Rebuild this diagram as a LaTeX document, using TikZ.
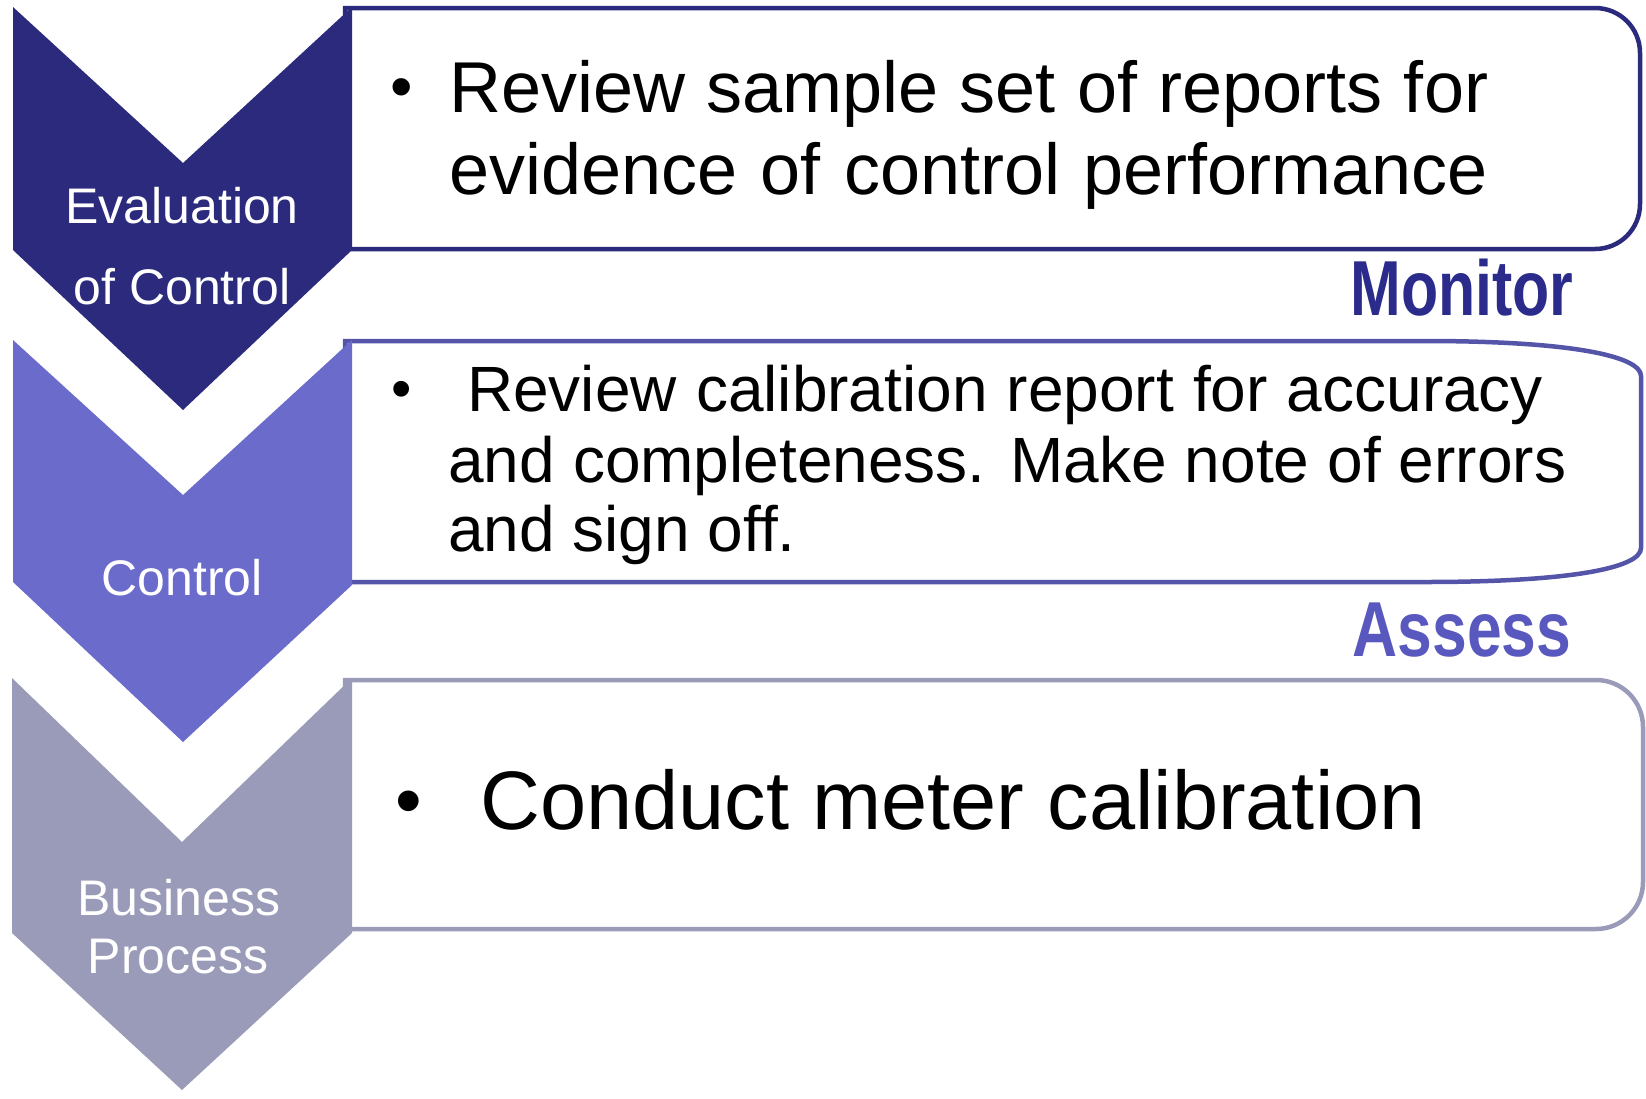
\documentclass[tikz,border=0pt]{standalone}
\usepackage{fontspec}
\setmainfont{Liberation Sans}
\definecolor{navy}{HTML}{2B2A7C}
\definecolor{midblue}{HTML}{6B6BCC}
\definecolor{greyblue}{HTML}{9A9AB9}
\definecolor{boxtwo}{HTML}{5454A8}
\definecolor{monitorc}{HTML}{2B2B8C}
\definecolor{assessc}{HTML}{5858BE}
\tikzset{
  chevlabel/.style={text=white, inner sep=0pt, anchor=base, font=\fontsize{50}{60}\selectfont},
  boxline/.style={line width=4.5pt, fill=white},
  bodytext/.style={inner sep=0pt, anchor=base west, text=black},
  bulletmark/.style={inner sep=0pt, anchor=base, text=black},
  sidelabel/.style={inner sep=0pt, anchor=base, font=\fontsize{78}{80}\selectfont\bfseries},
}
\begin{document}
\begin{tikzpicture}[x=1pt,y=-1pt]
\useasboundingbox (0,0) rectangle (1646,1098);

% boxes (behind chevrons)
\draw[boxline, draw=navy] (345,8) -- (1595,8) .. controls (1620,8) and (1640,28) .. (1640,53)
  -- (1640,204) .. controls (1640,229) and (1620,249) .. (1595,249) -- (345,249) -- cycle;
\draw[boxline, draw=boxtwo] (345,341) -- (1425,341) .. controls (1570,341) and (1641,356) .. (1641,376)
  -- (1641,548) .. controls (1641,568) and (1570,582) .. (1425,582) -- (345,582) -- cycle;
\draw[boxline, draw=greyblue] (345,680) -- (1596,680) .. controls (1622,680) and (1643,701) .. (1643,727)
  -- (1643,882) .. controls (1643,908) and (1622,929) .. (1596,929) -- (345,929) -- cycle;

% chevrons
\fill[navy] (13,7) -- (183,163) -- (352,7) -- (352,250) -- (183,410) -- (13,250) -- cycle;
\fill[midblue] (13,340) -- (183,495) -- (352,340) -- (352,585) -- (183,742) -- (13,582) -- cycle;
\fill[greyblue] (12,678) -- (182,842) -- (352,678) -- (352,933) -- (182,1090) -- (12,933) -- cycle;

% chevron labels
\node[chevlabel] (evalA) at (182,223) {Evaluation};
\node[chevlabel] (evalB) at (182,304) {of Control};
\node[chevlabel] (ctrl) at (182,595) {Control};
\node[chevlabel] (busA) at (179,915) {Business};
\node[chevlabel] (busB) at (178,973) {Process};

% box 1 text
\node[bulletmark, font=\fontsize{64}{80}\selectfont] (b1) at (402,108) {•};
\node[bodytext, font=\fontsize{72}{80}\selectfont] (t1a) at (449,112) {\makebox[1039pt][s]{Review sample set of reports for}};
\node[bodytext, font=\fontsize{72}{80}\selectfont] (t1b) at (449,194) {\makebox[1039pt][s]{evidence of control performance}};

% box 2 text
\node[bulletmark, font=\fontsize{58}{70}\selectfont] (b2) at (402,408) {•};
\node[bodytext, font=\fontsize{64}{70}\selectfont] (t2a) at (467,411) {\makebox[1076pt][s]{Review calibration report for accuracy}};
\node[bodytext, font=\fontsize{64}{70}\selectfont] (t2b) at (448,482) {\makebox[1118pt][s]{and completeness. Make note of errors}};
\node[bodytext, font=\fontsize{64}{70}\selectfont] (t2c) at (448,551) {and sign off.};

% box 3 text
\node[bulletmark, font=\fontsize{76}{90}\selectfont] (b3) at (409,826) {•};
\node[bodytext, font=\fontsize{83}{90}\selectfont] (t3) at (480,829) {Conduct meter calibration};

% side labels
\node[sidelabel, text=monitorc] (monitor) at (1462,315) {\scalebox{0.78}[1]{Monitor}};
\node[sidelabel, text=assessc] (assess) at (1462,656) {\scalebox{0.8}[1]{Assess}};
\end{tikzpicture}
\end{document}
